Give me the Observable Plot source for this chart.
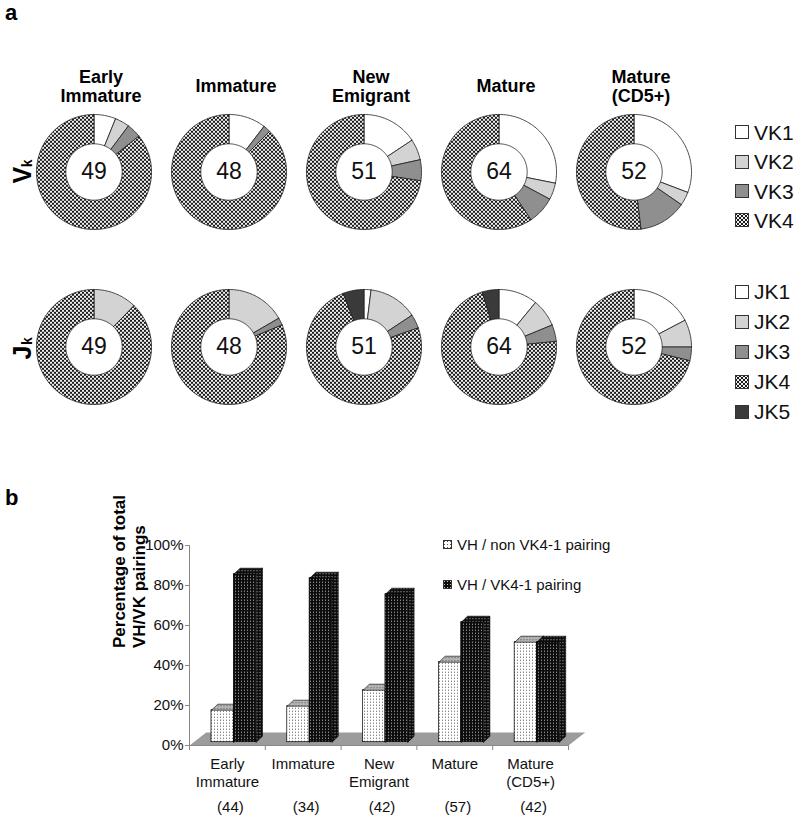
<!DOCTYPE html>
<html><head><meta charset="utf-8">
<script src="https://cdn.jsdelivr.net/npm/d3@7"></script>
<script src="https://cdn.jsdelivr.net/npm/@observablehq/plot@0.6"></script>
<style>
body{margin:0;background:#fff;font-family:"Liberation Sans",Arial,sans-serif;}
#wrap{position:relative;width:800px;height:820px;overflow:hidden;background:#fff;}
.abs{position:absolute;}
.panel{position:absolute;font-weight:bold;font-size:22px;line-height:26px;color:#000;}
.leg{position:absolute;display:flex;align-items:center;white-space:nowrap;color:#111;}
.leg svg{flex:none;}
</style></head><body>
<svg width="0" height="0" style="position:absolute;left:0;top:0">
<defs>
<pattern id="checker" patternUnits="userSpaceOnUse" width="4" height="4">
<rect width="4" height="4" fill="#f0f0f0"/><rect width="2" height="2" fill="#1a1a1a"/><rect x="2" y="2" width="2" height="2" fill="#1a1a1a"/>
</pattern>
<pattern id="dotlight" patternUnits="userSpaceOnUse" width="3" height="3">
<rect width="3" height="3" fill="#ffffff"/><rect x="1" y="1" width="1" height="1" fill="#555"/>
</pattern>
<pattern id="dotgray" patternUnits="userSpaceOnUse" width="3" height="3">
<rect width="3" height="3" fill="#b4b4b4"/><rect x="1" y="1" width="1" height="1" fill="#555"/>
</pattern>
<pattern id="dotdark" patternUnits="userSpaceOnUse" width="3" height="3">
<rect width="3" height="3" fill="#0d0d0d"/><rect x="1" y="1" width="1" height="1" fill="#bdbdbd"/>
</pattern>
</defs></svg>
<div id="wrap">
  <div id="donuts" class="abs" style="left:0;top:0"></div>
  <div id="bars" class="abs" style="left:0;top:470px"></div>
  <div class="panel" style="left:5px;top:0px">a</div>
  <div class="panel" style="left:5px;top:485px">b</div>
</div>
<script>
// ---------------- DATA ----------------
const stages = ["Early Immature", "Immature", "New Emigrant", "Mature", "Mature (CD5+)"];
const stageTitles = ["Early\nImmature", "Immature", "New\nEmigrant", "Mature", "Mature\n(CD5+)"];
const genes = ["Vk", "Jk"];
const vkSegments = ["VK1", "VK2", "VK3", "VK4"];
const vkCounts = [
  [3, 2, 2, 42],
  [5, 0, 1, 42],
  [8, 3, 3, 37],
  [18, 3, 5, 38],
  [16, 2, 7, 27]
];
const jkSegments = ["JK1", "JK2", "JK3", "JK4", "JK5"];
const jkCounts = [
  [0, 6, 0, 43, 0],
  [0, 8, 1, 39, 0],
  [1, 7, 2, 38, 3],
  [7, 5, 3, 46, 3],
  [9, 4, 2, 37, 0]
];
const barSeries = ["VH / non VK4-1 pairing", "VH / VK4-1 pairing"];
const nonVK41 = [0.16, 0.18, 0.26, 0.40, 0.50];
const vk41 = [0.84, 0.82, 0.74, 0.60, 0.50];
const barN = [44, 34, 42, 57, 42];
const yTicks = [0, 0.2, 0.4, 0.6, 0.8, 1.0];

// ---------------- STYLE ----------------
const FONT = "Liberation Sans, Arial, sans-serif";
const segFill = {
  VK1: "#ffffff", VK2: "#d3d3d3", VK3: "#8f8f8f", VK4: "url(#checker)",
  JK1: "#ffffff", JK2: "#d3d3d3", JK3: "#8f8f8f", JK4: "url(#checker)", JK5: "#3a3a3a"
};
const R_OUT = 1, R_IN = 0.49, PAD = 60 / 58;

// ---------------- DONUT GEOMETRY (from data) ----------------
const rows = [];
function addRing(gene, segs, counts) {
  stages.forEach((st, i) => {
    const c = counts[i];
    const total = d3.sum(c);
    let cum = 0;
    c.forEach((v, j) => {
      if (v > 0) {
        const a0 = 2 * Math.PI * cum / total, a1 = 2 * Math.PI * (cum + v) / total;
        const n = Math.max(2, Math.ceil((a1 - a0) / (Math.PI / 120)));
        const id = gene + "-" + i + "-" + j;
        const pts = [];
        for (let k = 0; k <= n; k++) { const a = a0 + (a1 - a0) * k / n; pts.push([R_OUT * Math.sin(a), R_OUT * Math.cos(a)]); }
        for (let k = n; k >= 0; k--) { const a = a0 + (a1 - a0) * k / n; pts.push([R_IN * Math.sin(a), R_IN * Math.cos(a)]); }
        pts.push(pts[0]);
        pts.forEach(([x, y]) => rows.push({type: "arc", stage: st, gene, id, seg: segs[j], x, y}));
      }
      cum += v;
    });
    rows.push({type: "total", stage: st, gene, x: 0, y: 0, label: String(total)});
  });
}
addRing("Vk", vkSegments, vkCounts);
addRing("Jk", jkSegments, jkCounts);
stages.forEach((st, i) => rows.push({type: "title", stage: st, gene: "Vk", label: stageTitles[i]}));
rows.push({type: "rowlab", stage: stages[0], gene: "Vk", main: "V", sub: "k"});
rows.push({type: "rowlab", stage: stages[0], gene: "Jk", main: "J", sub: "k"});

const colorDomain = [...vkSegments, ...jkSegments];
const donutPlot = Plot.plot({
  width: 800, height: 440,
  marginLeft: 32.5, marginRight: 104.5, marginTop: 111.7, marginBottom: 32.5,
  style: {fontFamily: FONT, background: "transparent", overflow: "visible"},
  facet: {data: rows, x: "stage", y: "gene"},
  fx: {domain: stages, paddingInner: 0.116, paddingOuter: 0, axis: null},
  fy: {domain: genes, paddingInner: 0.3174, paddingOuter: 0, axis: null},
  x: {domain: [-PAD, PAD], axis: null},
  y: {domain: [-PAD, PAD], axis: null},
  color: {type: "ordinal", domain: colorDomain, range: colorDomain.map(d => segFill[d]), legend: false},
  marks: [
    Plot.line(rows, {filter: d => d.type === "arc", x: "x", y: "y", z: "id", fill: "seg", stroke: "#1e1e1e", strokeWidth: 0.8, strokeLinejoin: "miter"}),
    Plot.text(rows, {filter: d => d.type === "total", x: "x", y: "y", text: "label", fontSize: 23, fill: "#111"}),
    Plot.text(rows, {filter: d => d.type === "title", frameAnchor: "top", text: "label", fontSize: 18, fontWeight: "bold", lineHeight: 1.07, lineAnchor: "middle", dx: 7, dy: -26.2, fill: "#000"}),
    Plot.text(rows, {filter: d => d.type === "rowlab" && d.gene === "Vk", frameAnchor: "left", text: "main", rotate: -90, textAnchor: "start", fontSize: 25, fontWeight: "bold", dx: -11.5, dy: 11.6, fill: "#000"}),
    Plot.text(rows, {filter: d => d.type === "rowlab" && d.gene === "Vk", frameAnchor: "left", text: "sub", rotate: -90, textAnchor: "start", fontSize: 14, fontWeight: "bold", dx: -7, dy: -4.7, fill: "#000"}),
    Plot.text(rows, {filter: d => d.type === "rowlab" && d.gene === "Jk", frameAnchor: "left", text: "main", rotate: -90, textAnchor: "start", fontSize: 25, fontWeight: "bold", dx: -11.5, dy: 12.5, fill: "#000"}),
    Plot.text(rows, {filter: d => d.type === "rowlab" && d.gene === "Jk", frameAnchor: "left", text: "sub", rotate: -90, textAnchor: "start", fontSize: 14, fontWeight: "bold", dx: -7, dy: -2, fill: "#000"})
  ]
});
document.getElementById("donuts").appendChild(donutPlot);

// ---------------- BAR GEOMETRY (from data) ----------------
const BAR_OFF = 0.29, BAR_W = 0.295, DX = 0.083, DY = 0.03, FDX = 0.22, FDY = 0.065, LIFT = -3.3;
const nS = stages.length;
const barRows = [];
stages.forEach((st, i) => {
  [nonVK41[i], vk41[i]].forEach((v, s) => {
    barRows.push({i, s, series: barSeries[s], v, x1: i + BAR_OFF + s * BAR_W, x2: i + BAR_OFF + (s + 1) * BAR_W});
  });
});
const faces = [];
barRows.forEach(b => {
  const top = [[b.x1, b.v], [b.x2, b.v], [b.x2 + DX, b.v + DY], [b.x1 + DX, b.v + DY], [b.x1, b.v]];
  top.forEach(([x, y]) => faces.push({id: "t" + b.i + b.s, kind: "top", s: b.s, x, y}));
  const side = [[b.x2, 0], [b.x2, b.v], [b.x2 + DX, b.v + DY], [b.x2 + DX, DY], [b.x2, 0]];
  side.forEach(([x, y]) => faces.push({id: "s" + b.i + b.s, kind: "side", s: b.s, x, y}));
});
const floorPts = [[0, 0], [nS, 0], [nS + FDX, FDY], [FDX, FDY]].map(([x, y]) => ({x, y}));

const barPlot = Plot.plot({
  width: 800, height: 350,
  marginLeft: 189, marginRight: 232, marginTop: 75, marginBottom: 75,
  style: {fontFamily: FONT, background: "transparent", overflow: "visible"},
  x: {domain: [0, nS]},
  y: {domain: [0, 1]},
  marks: [
    Plot.line(floorPts, {x: "x", y: "y", fill: "#9c9c9c", stroke: "none"}),
    Plot.ruleX([0], {y1: 0, y2: 1, stroke: "#888"}),
    Plot.ruleY([0], {x1: 0, x2: nS, stroke: "#888"}),
    Plot.axisX({ticks: d3.range(nS + 1), tickSize: 5, tickFormat: () => "", stroke: "#888", label: null}),
    Plot.axisY({ticks: yTicks, tickFormat: d3.format(".0%"), tickSize: 4, tickPadding: 2, fontSize: 15, stroke: "#888", fill: "#111", label: null}),
    // light series
    Plot.line(faces, {filter: d => d.s === 0 && d.kind === "side", x: "x", y: "y", z: "id", fill: "url(#dotgray)", stroke: "#000", strokeWidth: 0.6, dy: LIFT}),
    Plot.rect(barRows, {filter: d => d.s === 0, x1: "x1", x2: "x2", y1: 0, y2: "v", fill: "url(#dotlight)", stroke: "#000", strokeWidth: 0.7, dy: LIFT}),
    Plot.line(faces, {filter: d => d.s === 0 && d.kind === "top", x: "x", y: "y", z: "id", fill: "url(#dotgray)", stroke: "#000", strokeWidth: 0.6, dy: LIFT}),
    // dark series
    Plot.rect(barRows, {filter: d => d.s === 1, x1: "x1", x2: "x2", y1: 0, y2: "v", fill: "url(#dotdark)", stroke: "#000", strokeWidth: 0.7, dy: LIFT}),
    Plot.line(faces, {filter: d => d.s === 1 && d.kind === "side", x: "x", y: "y", z: "id", fill: "url(#dotdark)", stroke: "#000", strokeWidth: 0.6, dy: LIFT}),
    Plot.line(faces, {filter: d => d.s === 1 && d.kind === "top", x: "x", y: "y", z: "id", fill: "url(#dotdark)", stroke: "#000", strokeWidth: 0.6, dy: LIFT}),
    // labels
    Plot.text(stageTitles, {x: (d, i) => i + 0.5, frameAnchor: "bottom", text: d => d, lineAnchor: "top", lineHeight: 1.25, dy: 9.7, fontSize: 15, fill: "#111"}),
    Plot.text(barN, {x: (d, i) => i + 0.5, frameAnchor: "bottom", text: d => "(" + d + ")", lineAnchor: "top", dy: 55.4, dx: 3, fontSize: 15, fill: "#111"}),
    Plot.text(["Percentage of total\nVH/VK pairings"], {frameAnchor: "left", text: d => d, rotate: -90, lineHeight: 1.15, fontSize: 17, fontWeight: "bold", dx: -61, dy: 2.5, fill: "#000"})
  ]
});
document.getElementById("bars").appendChild(barPlot);

// ---------------- LEGENDS ----------------
const wrap = document.getElementById("wrap");
function addLegend(labels, fills, left, centers, size, fontSize, gap) {
  labels.forEach((lab, k) => {
    const div = document.createElement("div");
    div.className = "leg";
    div.style.left = left + "px";
    div.style.top = (centers[k] - fontSize / 2) + "px";
    div.style.fontSize = fontSize + "px";
    div.style.lineHeight = fontSize + "px";
    div.innerHTML = `<svg width="${size + 1}" height="${size + 1}" style="margin-right:${gap}px"><rect x="0.5" y="0.5" width="${size}" height="${size}" fill="${fills[k]}" stroke="#333" stroke-width="1"/></svg><span>${lab}</span>`;
    wrap.appendChild(div);
  });
}
addLegend(vkSegments, vkSegments.map(d => segFill[d]), 735, vkSegments.map((d, k) => 132.2 + 29.4 * k), 13, 21, 5);
addLegend(jkSegments, jkSegments.map(d => segFill[d]), 735, jkSegments.map((d, k) => 291.7 + 30 * k), 13, 21, 5);
addLegend(barSeries, ["url(#dotlight)", "url(#dotdark)"], 443, [544, 584], 8, 15, 5);
</script>
</body></html>
